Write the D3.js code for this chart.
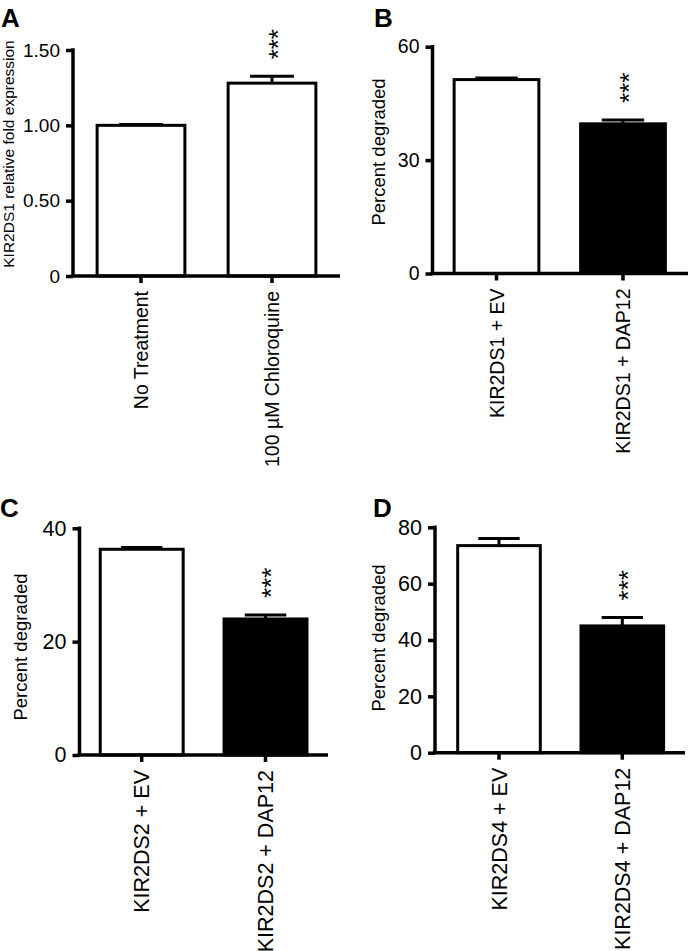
<!DOCTYPE html>
<html>
<head>
<meta charset="utf-8">
<script src="https://cdn.jsdelivr.net/npm/d3@7"></script>
<style>
  html, body { margin: 0; padding: 0; background: #fff; }
  svg { display: block; }
  text { font-family: "Liberation Sans", Arial, sans-serif; fill: #000; }
</style>
</head>
<body>
<svg id="chart" width="690" height="951"></svg>
<script>
// ---------------- DATA ----------------
const catsA = ["No Treatment", "100 \u00B5M Chloroquine"];
const valsA = [1.00, 1.28];
const errsA = [0.005, 0.045];
const fillsA = ["#ffffff", "#ffffff"];
const ticksA = [0, 0.5, 1.0, 1.5];
const tickLabelsA = ["0", "0.50", "1.00", "1.50"];
const yTitleA = "KIR2DS1 relative fold expression";

const catsB = ["KIR2DS1 + EV", "KIR2DS1 + DAP12"];
const valsB = [51.3, 39.6];
const errsB = [0.4, 1.0];
const fillsB = ["#ffffff", "#000000"];
const ticksB = [0, 30, 60];
const tickLabelsB = ["0", "30", "60"];

const catsC = ["KIR2DS2 + EV", "KIR2DS2 + DAP12"];
const valsC = [36.3, 24.0];
const errsC = [0.3, 0.7];
const fillsC = ["#ffffff", "#000000"];
const ticksC = [0, 20, 40];
const tickLabelsC = ["0", "20", "40"];

const catsD = ["KIR2DS4 + EV", "KIR2DS4 + DAP12"];
const valsD = [73.5, 45.0];
const errsD = [2.5, 3.0];
const fillsD = ["#ffffff", "#000000"];
const ticksD = [0, 20, 40, 60, 80];
const tickLabelsD = ["0", "20", "40", "60", "80"];

const yTitleDeg = "Percent degraded";
const sigLabels = ["", "***"];
const panelLetters = ["A", "B", "C", "D"];

// ---------------- LAYOUT ----------------
const panels = [
  { letter: panelLetters[0], cats: catsA, vals: valsA, errs: errsA, fills: fillsA, ticks: ticksA, tl: tickLabelsA, title: yTitleA,
    axisX: 73, xRight: 340, y0: 276, yTop: 50, c1: 141, c2: 272,
    tickFs: 19, xFs: 19.5, titleFs: 15.5, titleX: 14, titleY: 154, letterX: 1, letterY: 27 },
  { letter: panelLetters[1], cats: catsB, vals: valsB, errs: errsB, fills: fillsB, ticks: ticksB, tl: tickLabelsB, title: yTitleDeg,
    axisX: 432.5, xRight: 688, y0: 273.5, yTop: 46.7, c1: 496.5, c2: 623,
    tickFs: 19.5, xFs: 19.5, titleFs: 18.5, titleX: 385, titleY: 152, letterX: 374, letterY: 27 },
  { letter: panelLetters[2], cats: catsC, vals: valsC, errs: errsC, fills: fillsC, ticks: ticksC, tl: tickLabelsC, title: yTitleDeg,
    axisX: 79.5, xRight: 328, y0: 755, yTop: 528.3, c1: 141.7, c2: 265.5,
    tickFs: 21.5, xFs: 21.5, titleFs: 18.5, titleX: 27, titleY: 647, letterX: 0, letterY: 517 },
  { letter: panelLetters[3], cats: catsD, vals: valsD, errs: errsD, fills: fillsD, ticks: ticksD, tl: tickLabelsD, title: yTitleDeg,
    axisX: 435, xRight: 685, y0: 752.7, yTop: 527.3, c1: 499, c2: 622.3,
    tickFs: 21.5, xFs: 21.5, titleFs: 18.5, titleX: 385, titleY: 638, letterX: 373, letterY: 517 }
];

const svg = d3.select("#chart");
const AXIS_W = 3.5, BAR_W = 3, TICK = 7, PAD_IN = 0.33;

panels.forEach(p => {
  const g = svg.append("g");
  const step = p.c2 - p.c1;
  const x = d3.scaleBand().domain(p.cats)
    .range([p.c1 - step / 2, p.c2 + step / 2])
    .paddingInner(PAD_IN).paddingOuter(PAD_IN / 2);
  const y = d3.scaleLinear().domain([0, d3.max(p.ticks)]).range([p.y0, p.yTop]);
  const bw = x.bandwidth();

  // bars
  g.selectAll("rect.bar").data(p.cats).join("rect")
    .attr("class", "bar")
    .attr("x", d => x(d))
    .attr("width", bw)
    .attr("y", (d, i) => y(p.vals[i]))
    .attr("height", (d, i) => p.y0 - y(p.vals[i]))
    .attr("fill", (d, i) => p.fills[i])
    .attr("stroke", "#000")
    .attr("stroke-width", BAR_W);

  // error bars
  p.cats.forEach((c, i) => {
    const cx = x(c) + bw / 2;
    const yt = y(p.vals[i] + p.errs[i]);
    g.append("line").attr("x1", cx).attr("x2", cx)
      .attr("y1", y(p.vals[i])).attr("y2", yt)
      .attr("stroke", "#000").attr("stroke-width", BAR_W);
    g.append("line").attr("x1", cx - bw / 4).attr("x2", cx + bw / 4)
      .attr("y1", yt).attr("y2", yt)
      .attr("stroke", "#000").attr("stroke-width", BAR_W);
    if (sigLabels[i]) {
      g.append("text")
        .attr("transform", `translate(${cx},${yt - 17}) rotate(-90)`)
        .attr("dy", "0.56em")
        .attr("font-size", 26)
        .attr("text-anchor", "start")
        .text(sigLabels[i]);
    }
  });

  // y axis
  const yAxis = d3.axisLeft(y).tickValues(p.ticks)
    .tickFormat((d, i) => p.tl[i]).tickSize(TICK).tickPadding(6).tickSizeOuter(0);
  const ya = g.append("g").attr("transform", `translate(${p.axisX},0)`).call(yAxis);
  ya.select(".domain").remove();
  ya.selectAll(".tick line").attr("stroke", "#000").attr("stroke-width", AXIS_W);
  ya.selectAll(".tick text").attr("font-size", p.tickFs)
    .attr("font-family", "Liberation Sans, Arial, sans-serif").attr("fill", "#000");
  g.append("line").attr("x1", p.axisX).attr("x2", p.axisX)
    .attr("y1", p.y0).attr("y2", p.yTop - AXIS_W / 2)
    .attr("stroke", "#000").attr("stroke-width", AXIS_W);

  // x axis
  const xAxis = d3.axisBottom(x).tickSize(TICK).tickSizeOuter(0).tickFormat("");
  const xa = g.append("g").attr("transform", `translate(0,${p.y0})`).call(xAxis);
  xa.select(".domain").remove();
  xa.selectAll(".tick line").attr("stroke", "#000").attr("stroke-width", AXIS_W);
  g.append("line").attr("x1", p.axisX - AXIS_W / 2).attr("x2", p.xRight)
    .attr("y1", p.y0).attr("y2", p.y0)
    .attr("stroke", "#000").attr("stroke-width", AXIS_W);
  g.selectAll("text.xl").data(p.cats).join("text")
    .attr("class", "xl")
    .attr("transform", d => `translate(${x(d) + bw / 2},${p.y0 + TICK + 8}) rotate(-90)`)
    .attr("dy", "0.36em")
    .attr("text-anchor", "end")
    .attr("font-size", p.xFs)
    .text(d => d);

  // y title
  g.append("text")
    .attr("transform", `translate(${p.titleX},${p.titleY}) rotate(-90)`)
    .attr("text-anchor", "middle")
    .attr("font-size", p.titleFs)
    .text(p.title);

  // panel letter
  g.append("text")
    .attr("x", p.letterX).attr("y", p.letterY)
    .attr("font-size", 26).attr("font-weight", "bold")
    .text(p.letter);
});
</script>
</body>
</html>
